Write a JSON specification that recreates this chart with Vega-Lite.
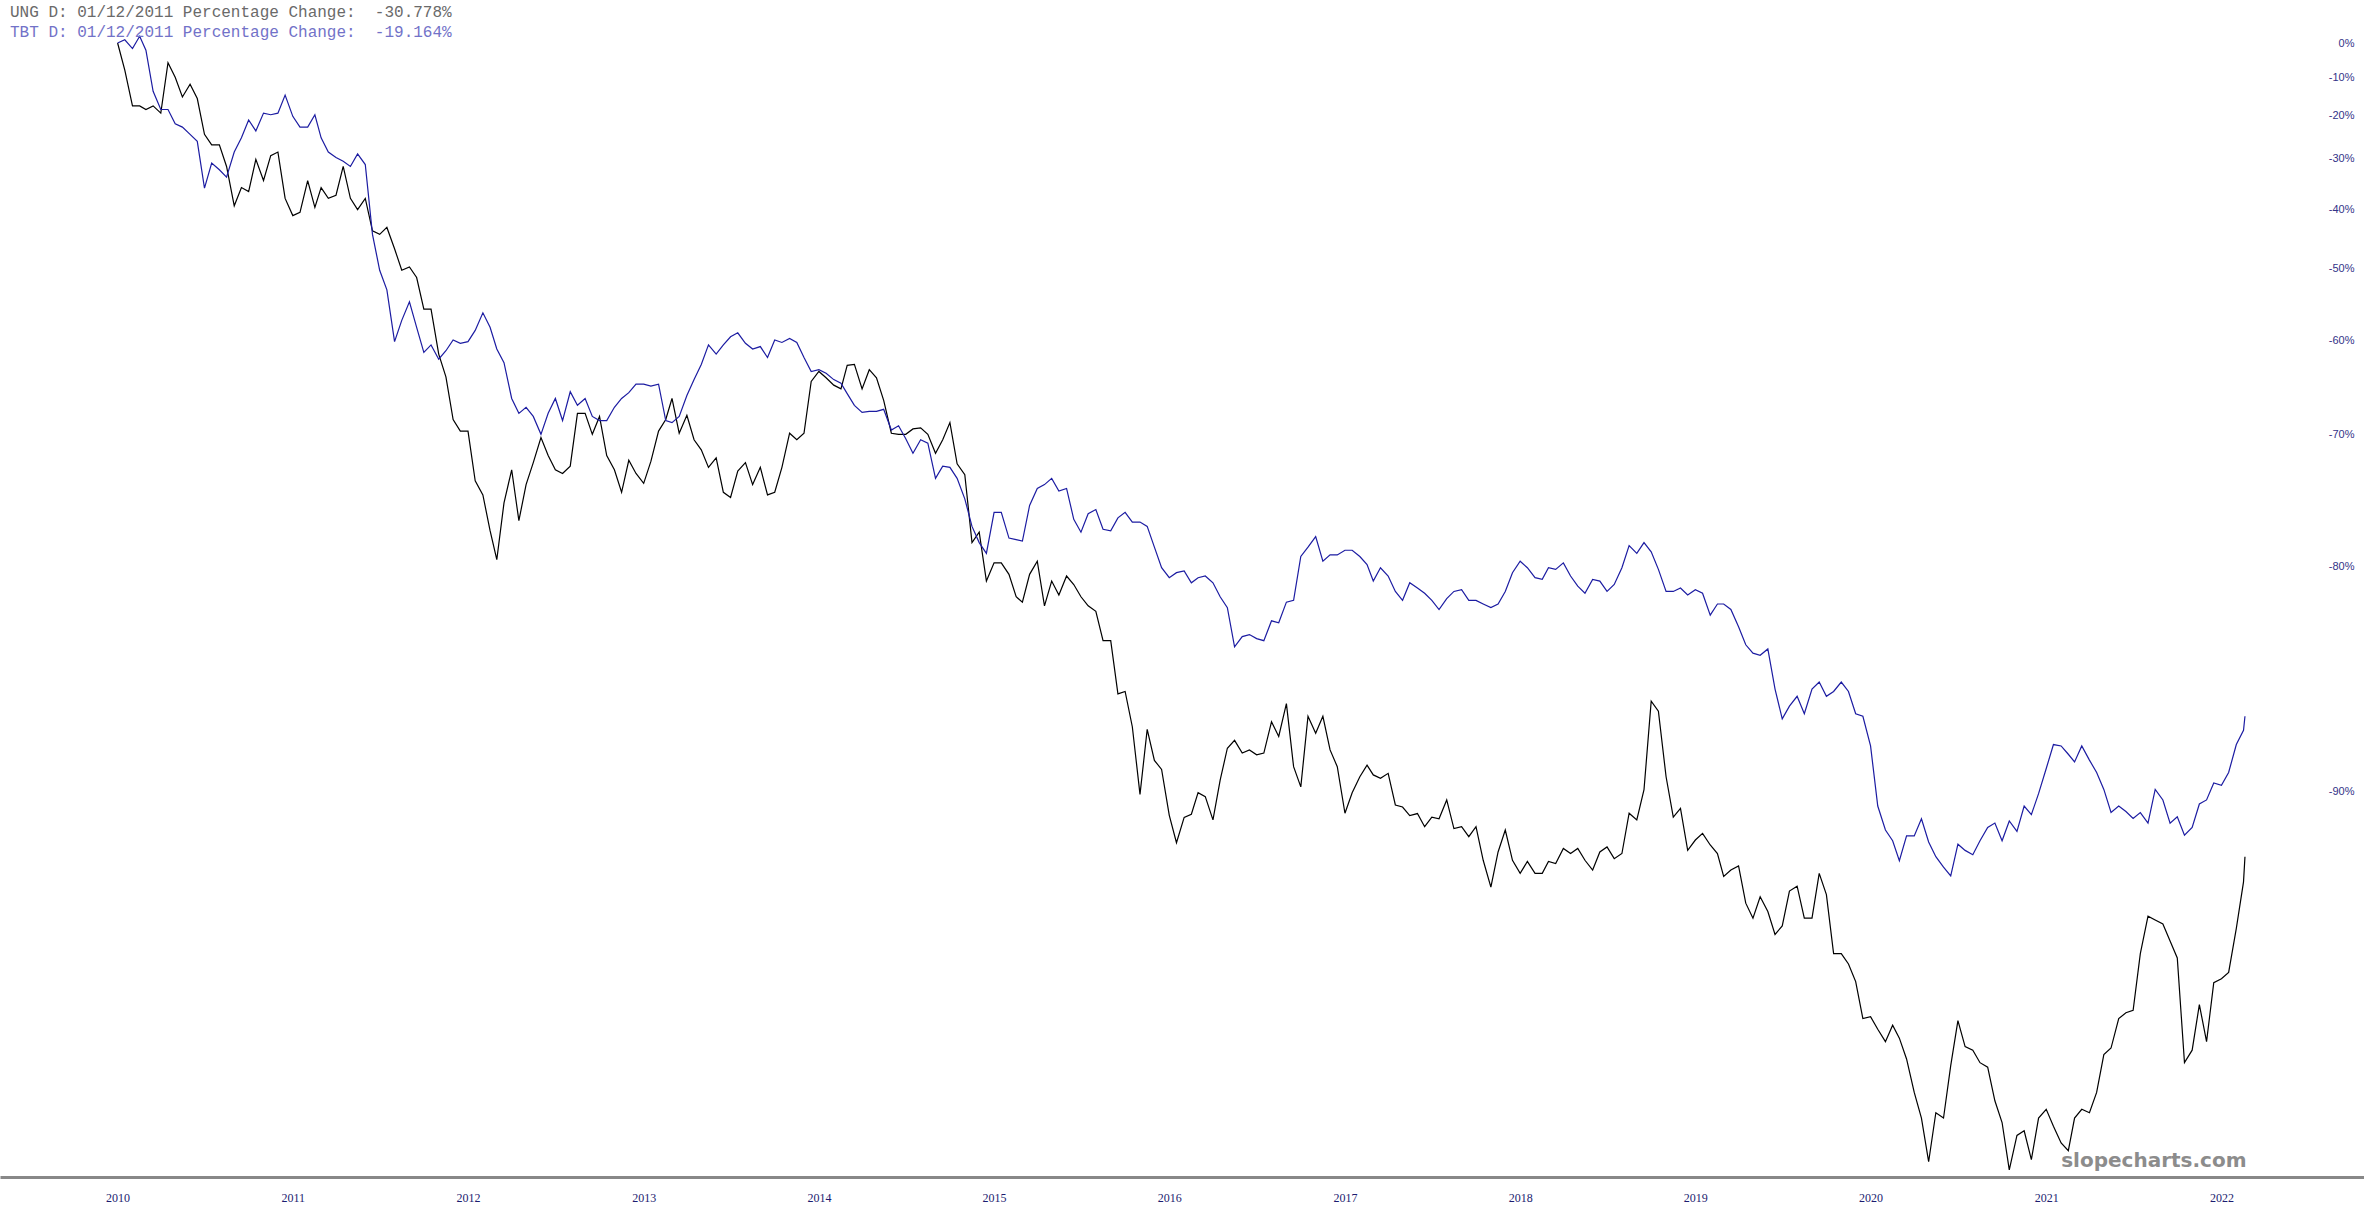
{
"$schema": "https://vega.github.io/schema/vega-lite/v6.json",
"width": 2364, "height": 1177, "autosize": "none", "padding": {"left": 0, "top": 0, "right": 0, "bottom": 41}, "background": "white",
"config": {"view": {"stroke": null}},
"title": {"text": "UNG D: 01/12/2011 Percentage Change:\u00a0 -30.778%", "subtitle": "TBT D: 01/12/2011 Percentage Change:\u00a0 -19.164%", "anchor": "start", "frame": "group", "orient": "top", "offset": -40, "dx": 10, "font": "Liberation Mono", "fontSize": 16, "fontWeight": "normal", "color": "#6a6a6a", "subtitleFont": "Liberation Mono", "subtitleFontSize": 16, "subtitleColor": "#7272c8", "subtitlePadding": 4},
"data": {"values": [
{"date":"2010-01-01","UNG":100,"TBT":100},{"date":"2010-01-16","UNG":92.0,"TBT":101.0},{"date":"2010-02-01","UNG":82.4,"TBT":98.3},{"date":"2010-02-16","UNG":82.4,"TBT":102.1},{"date":"2010-03-01","UNG":81.5,"TBT":97.8},{"date":"2010-03-16","UNG":82.4,"TBT":86.2},{"date":"2010-04-01","UNG":80.6,"TBT":81.5},{"date":"2010-04-16","UNG":94.1,"TBT":81.5},{"date":"2010-05-01","UNG":90.0,"TBT":78.0},{"date":"2010-05-16","UNG":84.7,"TBT":77.2},{"date":"2010-06-01","UNG":88.1,"TBT":75.5},{"date":"2010-06-16","UNG":84.3,"TBT":73.9},{"date":"2010-07-01","UNG":75.5,"TBT":64.0},{"date":"2010-07-16","UNG":73.1,"TBT":69.1},{"date":"2010-08-01","UNG":73.1,"TBT":67.7},{"date":"2010-08-16","UNG":68.4,"TBT":66.2},{"date":"2010-09-01","UNG":60.6,"TBT":71.5},{"date":"2010-09-16","UNG":64.1,"TBT":74.7},{"date":"2010-10-01","UNG":63.3,"TBT":78.9},{"date":"2010-10-16","UNG":69.9,"TBT":76.3},{"date":"2010-11-01","UNG":65.5,"TBT":80.6},{"date":"2010-11-16","UNG":70.7,"TBT":80.2},{"date":"2010-12-01","UNG":71.5,"TBT":80.6},{"date":"2010-12-16","UNG":62.0,"TBT":85.2},
{"date":"2011-01-01","UNG":58.8,"TBT":79.8},{"date":"2011-01-16","UNG":59.4,"TBT":77.2},{"date":"2011-02-01","UNG":65.5,"TBT":77.2},{"date":"2011-02-16","UNG":60.3,"TBT":80.2},{"date":"2011-03-01","UNG":64.1,"TBT":74.7},{"date":"2011-03-16","UNG":62.0,"TBT":71.5},{"date":"2011-04-01","UNG":62.6,"TBT":70.3},{"date":"2011-04-16","UNG":68.4,"TBT":69.5},{"date":"2011-05-01","UNG":62.0,"TBT":68.4},{"date":"2011-05-16","UNG":59.9,"TBT":71.1},{"date":"2011-06-01","UNG":62.0,"TBT":68.8},{"date":"2011-06-16","UNG":56.1,"TBT":55.5},{"date":"2011-07-01","UNG":55.5,"TBT":49.7},{"date":"2011-07-16","UNG":56.7,"TBT":46.8},{"date":"2011-08-01","UNG":53.1,"TBT":39.9},{"date":"2011-08-16","UNG":49.7,"TBT":42.6},{"date":"2011-09-01","UNG":50.2,"TBT":45.1},{"date":"2011-09-16","UNG":48.6,"TBT":41.7},{"date":"2011-10-01","UNG":44.1,"TBT":38.6},{"date":"2011-10-16","UNG":44.1,"TBT":39.5},{"date":"2011-11-01","UNG":38.4,"TBT":37.8},{"date":"2011-11-16","UNG":35.8,"TBT":38.8},{"date":"2011-12-01","UNG":31.4,"TBT":40.1},{"date":"2011-12-16","UNG":30.3,"TBT":39.7},
{"date":"2012-01-01","UNG":30.3,"TBT":39.9},{"date":"2012-01-16","UNG":26.0,"TBT":41.3},{"date":"2012-02-01","UNG":24.9,"TBT":43.6},{"date":"2012-02-16","UNG":22.3,"TBT":41.7},{"date":"2012-03-01","UNG":20.4,"TBT":39.0},{"date":"2012-03-16","UNG":24.3,"TBT":37.4},{"date":"2012-04-01","UNG":26.9,"TBT":33.5},{"date":"2012-04-16","UNG":23.0,"TBT":32.0},{"date":"2012-05-01","UNG":25.7,"TBT":32.6},{"date":"2012-05-16","UNG":27.5,"TBT":31.7},{"date":"2012-06-01","UNG":29.7,"TBT":30.0},{"date":"2012-06-16","UNG":28.1,"TBT":32.0},{"date":"2012-07-01","UNG":26.9,"TBT":33.5},{"date":"2012-07-16","UNG":26.6,"TBT":31.3},{"date":"2012-08-01","UNG":27.2,"TBT":34.2},{"date":"2012-08-16","UNG":32.0,"TBT":32.8},{"date":"2012-09-01","UNG":32.0,"TBT":33.5},{"date":"2012-09-16","UNG":30.0,"TBT":31.7},{"date":"2012-10-01","UNG":31.7,"TBT":31.3},{"date":"2012-10-16","UNG":28.1,"TBT":31.3},{"date":"2012-11-01","UNG":26.9,"TBT":32.6},{"date":"2012-11-16","UNG":25.1,"TBT":33.5},{"date":"2012-12-01","UNG":27.7,"TBT":34.1},{"date":"2012-12-16","UNG":26.6,"TBT":35.0},
{"date":"2013-01-01","UNG":25.8,"TBT":35.0},{"date":"2013-01-16","UNG":27.6,"TBT":34.8},{"date":"2013-02-01","UNG":30.3,"TBT":35.0},{"date":"2013-02-16","UNG":31.4,"TBT":31.3},{"date":"2013-03-01","UNG":33.5,"TBT":31.1},{"date":"2013-03-16","UNG":30.1,"TBT":31.7},{"date":"2013-04-01","UNG":31.8,"TBT":33.8},{"date":"2013-04-16","UNG":29.5,"TBT":35.5},{"date":"2013-05-01","UNG":28.6,"TBT":37.2},{"date":"2013-05-16","UNG":27.1,"TBT":39.5},{"date":"2013-06-01","UNG":27.9,"TBT":38.4},{"date":"2013-06-16","UNG":25.1,"TBT":39.5},{"date":"2013-07-01","UNG":24.7,"TBT":40.5},{"date":"2013-07-16","UNG":26.8,"TBT":41.0},{"date":"2013-08-01","UNG":27.5,"TBT":39.7},{"date":"2013-08-16","UNG":25.7,"TBT":39.0},{"date":"2013-09-01","UNG":27.1,"TBT":39.3},{"date":"2013-09-16","UNG":24.9,"TBT":38.0},{"date":"2013-10-01","UNG":25.1,"TBT":40.1},{"date":"2013-10-16","UNG":27.1,"TBT":39.8},{"date":"2013-11-01","UNG":30.1,"TBT":40.3},{"date":"2013-11-16","UNG":29.5,"TBT":39.8},{"date":"2013-12-01","UNG":30.1,"TBT":38.0},{"date":"2013-12-16","UNG":35.3,"TBT":36.4},
{"date":"2014-01-01","UNG":36.4,"TBT":36.6},{"date":"2014-01-16","UNG":35.7,"TBT":36.2},{"date":"2014-02-01","UNG":34.9,"TBT":35.5},{"date":"2014-02-16","UNG":34.5,"TBT":35.1},{"date":"2014-03-01","UNG":37.1,"TBT":34.0},{"date":"2014-03-16","UNG":37.2,"TBT":32.8},{"date":"2014-04-01","UNG":34.5,"TBT":32.1},{"date":"2014-04-16","UNG":36.6,"TBT":32.2},{"date":"2014-05-01","UNG":35.7,"TBT":32.2},{"date":"2014-05-16","UNG":33.3,"TBT":32.4},{"date":"2014-06-01","UNG":30.1,"TBT":30.4},{"date":"2014-06-16","UNG":30.0,"TBT":30.8},{"date":"2014-07-01","UNG":30.0,"TBT":29.6},{"date":"2014-07-16","UNG":30.5,"TBT":28.3},{"date":"2014-08-01","UNG":30.6,"TBT":29.5},{"date":"2014-08-16","UNG":30.0,"TBT":29.2},{"date":"2014-09-01","UNG":28.3,"TBT":26.2},{"date":"2014-09-16","UNG":29.5,"TBT":27.2},{"date":"2014-10-01","UNG":31.1,"TBT":27.1},{"date":"2014-10-16","UNG":27.4,"TBT":26.2},{"date":"2014-11-01","UNG":26.5,"TBT":24.6},{"date":"2014-11-16","UNG":21.5,"TBT":22.6},{"date":"2014-12-01","UNG":22.2,"TBT":21.5},{"date":"2014-12-16","UNG":19.1,"TBT":20.8},
{"date":"2015-01-01","UNG":20.2,"TBT":23.6},{"date":"2015-01-16","UNG":20.2,"TBT":23.6},{"date":"2015-02-01","UNG":19.5,"TBT":21.8},{"date":"2015-02-16","UNG":18.2,"TBT":21.7},{"date":"2015-03-01","UNG":17.9,"TBT":21.6},{"date":"2015-03-16","UNG":19.5,"TBT":24.1},{"date":"2015-04-01","UNG":20.3,"TBT":25.4},{"date":"2015-04-16","UNG":17.7,"TBT":25.7},{"date":"2015-05-01","UNG":19.1,"TBT":26.2},{"date":"2015-05-16","UNG":18.3,"TBT":25.2},{"date":"2015-06-01","UNG":19.4,"TBT":25.4},{"date":"2015-06-16","UNG":18.9,"TBT":23.1},{"date":"2015-07-01","UNG":18.2,"TBT":22.2},{"date":"2015-07-16","UNG":17.7,"TBT":23.5},{"date":"2015-08-01","UNG":17.4,"TBT":23.8},{"date":"2015-08-16","UNG":15.9,"TBT":22.4},{"date":"2015-09-01","UNG":15.9,"TBT":22.3},{"date":"2015-09-16","UNG":13.5,"TBT":23.2},{"date":"2015-10-01","UNG":13.6,"TBT":23.6},{"date":"2015-10-16","UNG":12.2,"TBT":22.9},{"date":"2015-11-01","UNG":9.91,"TBT":22.9},{"date":"2015-11-16","UNG":12.1,"TBT":22.6},{"date":"2015-12-01","UNG":11.0,"TBT":21.2},{"date":"2015-12-16","UNG":10.7,"TBT":19.9},
{"date":"2016-01-01","UNG":9.29,"TBT":19.3},{"date":"2016-01-16","UNG":8.54,"TBT":19.6},{"date":"2016-02-01","UNG":9.23,"TBT":19.7},{"date":"2016-02-16","UNG":9.32,"TBT":19.0},{"date":"2016-03-01","UNG":9.96,"TBT":19.3},{"date":"2016-03-16","UNG":9.84,"TBT":19.4},{"date":"2016-04-01","UNG":9.16,"TBT":19.0},{"date":"2016-04-16","UNG":10.35,"TBT":18.2},{"date":"2016-05-01","UNG":11.42,"TBT":17.6},{"date":"2016-05-16","UNG":11.7,"TBT":15.6},{"date":"2016-06-01","UNG":11.25,"TBT":16.1},{"date":"2016-06-16","UNG":11.36,"TBT":16.2},{"date":"2016-07-01","UNG":11.19,"TBT":16.0},{"date":"2016-07-16","UNG":11.25,"TBT":15.9},{"date":"2016-08-01","UNG":12.39,"TBT":16.9},{"date":"2016-08-16","UNG":11.84,"TBT":16.8},{"date":"2016-09-01","UNG":13.1,"TBT":17.9},{"date":"2016-09-16","UNG":10.79,"TBT":18.0},{"date":"2016-10-01","UNG":10.14,"TBT":20.6},{"date":"2016-10-16","UNG":12.6,"TBT":21.2},{"date":"2016-11-01","UNG":11.96,"TBT":21.9},{"date":"2016-11-16","UNG":12.6,"TBT":20.3},{"date":"2016-12-01","UNG":11.36,"TBT":20.7},{"date":"2016-12-16","UNG":10.79,"TBT":20.7},
{"date":"2017-01-01","UNG":9.35,"TBT":21.0},{"date":"2017-01-16","UNG":9.96,"TBT":21.0},{"date":"2017-02-01","UNG":10.46,"TBT":20.6},{"date":"2017-02-16","UNG":10.84,"TBT":20.1},{"date":"2017-03-01","UNG":10.52,"TBT":19.1},{"date":"2017-03-16","UNG":10.41,"TBT":19.9},{"date":"2017-04-01","UNG":10.57,"TBT":19.4},{"date":"2017-04-16","UNG":9.59,"TBT":18.5},{"date":"2017-05-01","UNG":9.53,"TBT":18.0},{"date":"2017-05-16","UNG":9.28,"TBT":19.0},{"date":"2017-06-01","UNG":9.34,"TBT":18.7},{"date":"2017-06-16","UNG":8.97,"TBT":18.4},{"date":"2017-07-01","UNG":9.24,"TBT":18.0},{"date":"2017-07-16","UNG":9.19,"TBT":17.5},{"date":"2017-08-01","UNG":9.74,"TBT":18.1},{"date":"2017-08-16","UNG":8.92,"TBT":18.5},{"date":"2017-09-01","UNG":8.97,"TBT":18.6},{"date":"2017-09-16","UNG":8.70,"TBT":18.0},{"date":"2017-10-01","UNG":8.97,"TBT":18.0},{"date":"2017-10-16","UNG":8.09,"TBT":17.8},{"date":"2017-11-01","UNG":7.45,"TBT":17.6},{"date":"2017-11-16","UNG":8.30,"TBT":17.8},{"date":"2017-12-01","UNG":8.88,"TBT":18.5},{"date":"2017-12-16","UNG":8.09,"TBT":19.6},
{"date":"2018-01-01","UNG":7.77,"TBT":20.3},{"date":"2018-01-16","UNG":8.06,"TBT":19.9},{"date":"2018-02-01","UNG":7.77,"TBT":19.3},{"date":"2018-02-16","UNG":7.77,"TBT":19.2},{"date":"2018-03-01","UNG":8.06,"TBT":19.9},{"date":"2018-03-16","UNG":8.01,"TBT":19.8},{"date":"2018-04-01","UNG":8.39,"TBT":20.2},{"date":"2018-04-16","UNG":8.26,"TBT":19.4},{"date":"2018-05-01","UNG":8.39,"TBT":18.8},{"date":"2018-05-16","UNG":8.09,"TBT":18.4},{"date":"2018-06-01","UNG":7.85,"TBT":19.2},{"date":"2018-06-16","UNG":8.30,"TBT":19.1},{"date":"2018-07-01","UNG":8.43,"TBT":18.5},{"date":"2018-07-16","UNG":8.13,"TBT":18.9},{"date":"2018-08-01","UNG":8.26,"TBT":19.9},{"date":"2018-08-16","UNG":9.35,"TBT":21.3},{"date":"2018-09-01","UNG":9.16,"TBT":20.8},{"date":"2018-09-16","UNG":10.05,"TBT":21.5},{"date":"2018-10-01","UNG":13.2,"TBT":20.9},{"date":"2018-10-16","UNG":12.8,"TBT":19.8},{"date":"2018-11-01","UNG":10.46,"TBT":18.5},{"date":"2018-11-16","UNG":9.24,"TBT":18.5},{"date":"2018-12-01","UNG":9.49,"TBT":18.7},{"date":"2018-12-16","UNG":8.34,"TBT":18.3},
{"date":"2019-01-01","UNG":8.61,"TBT":18.6},{"date":"2019-01-16","UNG":8.79,"TBT":18.4},{"date":"2019-02-01","UNG":8.48,"TBT":17.2},{"date":"2019-02-16","UNG":8.26,"TBT":17.8},{"date":"2019-03-01","UNG":7.70,"TBT":17.8},{"date":"2019-03-16","UNG":7.85,"TBT":17.5},{"date":"2019-04-01","UNG":7.95,"TBT":16.6},{"date":"2019-04-16","UNG":7.09,"TBT":15.7},{"date":"2019-05-01","UNG":6.77,"TBT":15.3},{"date":"2019-05-16","UNG":7.23,"TBT":15.2},{"date":"2019-06-01","UNG":6.91,"TBT":15.5},{"date":"2019-06-16","UNG":6.44,"TBT":13.7},{"date":"2019-07-01","UNG":6.61,"TBT":12.5},{"date":"2019-07-16","UNG":7.36,"TBT":13.0},{"date":"2019-08-01","UNG":7.47,"TBT":13.4},{"date":"2019-08-16","UNG":6.77,"TBT":12.7},{"date":"2019-09-01","UNG":6.77,"TBT":13.7},{"date":"2019-09-16","UNG":7.77,"TBT":14.0},{"date":"2019-10-01","UNG":7.28,"TBT":13.4},{"date":"2019-10-16","UNG":6.07,"TBT":13.6},{"date":"2019-11-01","UNG":6.07,"TBT":14.0},{"date":"2019-11-16","UNG":5.88,"TBT":13.6},{"date":"2019-12-01","UNG":5.57,"TBT":12.7},{"date":"2019-12-16","UNG":4.97,"TBT":12.6},
{"date":"2020-01-01","UNG":5.00,"TBT":11.5},{"date":"2020-01-16","UNG":4.81,"TBT":9.56},{"date":"2020-02-01","UNG":4.63,"TBT":8.88},{"date":"2020-02-16","UNG":4.87,"TBT":8.59},{"date":"2020-03-01","UNG":4.68,"TBT":8.08},{"date":"2020-03-16","UNG":4.39,"TBT":8.72},{"date":"2020-04-01","UNG":3.96,"TBT":8.72},{"date":"2020-04-16","UNG":3.66,"TBT":9.19},{"date":"2020-05-01","UNG":3.2,"TBT":8.56},{"date":"2020-05-16","UNG":3.72,"TBT":8.18},{"date":"2020-06-01","UNG":3.66,"TBT":7.92},{"date":"2020-06-16","UNG":4.30,"TBT":7.71},{"date":"2020-07-01","UNG":4.94,"TBT":8.50},{"date":"2020-07-16","UNG":4.56,"TBT":8.34},{"date":"2020-08-01","UNG":4.51,"TBT":8.23},{"date":"2020-08-16","UNG":4.34,"TBT":8.59},{"date":"2020-09-01","UNG":4.28,"TBT":8.95},{"date":"2020-09-16","UNG":3.86,"TBT":9.07},{"date":"2020-10-01","UNG":3.61,"TBT":8.59},{"date":"2020-10-16","UNG":3.12,"TBT":9.13},{"date":"2020-11-01","UNG":3.47,"TBT":8.84},{"date":"2020-11-16","UNG":3.52,"TBT":9.56},{"date":"2020-12-01","UNG":3.22,"TBT":9.31},{"date":"2020-12-16","UNG":3.66,"TBT":9.93},
{"date":"2021-01-01","UNG":3.76,"TBT":10.73},{"date":"2021-01-16","UNG":3.57,"TBT":11.55},{"date":"2021-02-01","UNG":3.39,"TBT":11.50},{"date":"2021-02-16","UNG":3.31,"TBT":11.21},{"date":"2021-03-01","UNG":3.66,"TBT":10.95},{"date":"2021-03-16","UNG":3.76,"TBT":11.50},{"date":"2021-04-01","UNG":3.72,"TBT":11.01},{"date":"2021-04-16","UNG":3.96,"TBT":10.60},{"date":"2021-05-01","UNG":4.45,"TBT":10.06},{"date":"2021-05-16","UNG":4.54,"TBT":9.37},{"date":"2021-06-01","UNG":4.97,"TBT":9.56},{"date":"2021-06-16","UNG":5.06,"TBT":9.40},{"date":"2021-07-01","UNG":5.10,"TBT":9.20},{"date":"2021-07-16","UNG":6.07,"TBT":9.37},{"date":"2021-08-01","UNG":6.81,"TBT":9.07},{"date":"2021-08-16","UNG":6.73,"TBT":10.06},{"date":"2021-09-01","UNG":6.65,"TBT":9.74},{"date":"2021-09-16","UNG":6.31,"TBT":9.07},{"date":"2021-10-01","UNG":5.99,"TBT":9.25},{"date":"2021-10-16","UNG":4.34,"TBT":8.74},{"date":"2021-11-01","UNG":4.51,"TBT":8.95},{"date":"2021-11-16","UNG":5.19,"TBT":9.62},{"date":"2021-12-01","UNG":4.63,"TBT":9.74},{"date":"2021-12-16","UNG":5.55,"TBT":10.26},
{"date":"2022-01-01","UNG":5.62,"TBT":10.19},{"date":"2022-01-16","UNG":5.73,"TBT":10.60},{"date":"2022-02-01","UNG":6.56,"TBT":11.55},{"date":"2022-02-16","UNG":7.57,"TBT":12.07},{"date":"2022-02-19","UNG":8.18,"TBT":12.6}
]},
"transform": [{"fold": ["UNG", "TBT"], "as": ["ticker", "level"]}],
"mark": {"type": "line", "strokeWidth": 1.2},
"encoding": {
"x": {"field": "date", "type": "temporal",
 "scale": {"domain": [{"year": 2009, "month": 5, "date": 1}, {"year": 2022, "month": 10, "date": 25}]},
 "axis": {"orient": "bottom", "tickCount": {"interval": "year", "step": 1}, "format": "%Y", "grid": false, "ticks": false, "tickSize": 0, "domain": true, "domainColor": "#888888", "domainWidth": 3, "labelFont": "Liberation Serif", "labelFontSize": 12, "labelColor": "#1c1c70", "labelPadding": 20, "labelBaseline": "middle", "labelFlush": false, "labelOverlap": false, "title": "slopecharts.com", "titleX": 2246, "titleY": -11, "titleAlign": "right", "titleBaseline": "alphabetic", "titleFont": "DejaVu Sans", "titleFontSize": 20, "titleFontWeight": "bold", "titleColor": "#8c8c8c"}},
"y": {"field": "level", "type": "quantitative",
 "scale": {"type": "log", "domain": [3.053, 114.15], "nice": false, "zero": false},
 "axis": {"orient": "right", "values": [100, 90, 80, 70, 60, 50, 40, 30, 20, 10], "labelExpr": "datum.value >= 100 ? '0%' : '-' + (100 - datum.value) + '%'", "domain": false, "ticks": false, "tickSize": 0, "grid": false, "title": null, "labelAlign": "right", "labelBaseline": "middle", "offset": -10, "labelPadding": 0, "labelFont": "Liberation Sans", "labelFontSize": 11, "labelColor": "#333388", "labelOverlap": false, "labelFlush": false, "labelBound": false}},
"color": {"field": "ticker", "type": "nominal", "scale": {"domain": ["UNG", "TBT"], "range": ["#000000", "#1c1ca2"]}, "legend": null}
}
}
